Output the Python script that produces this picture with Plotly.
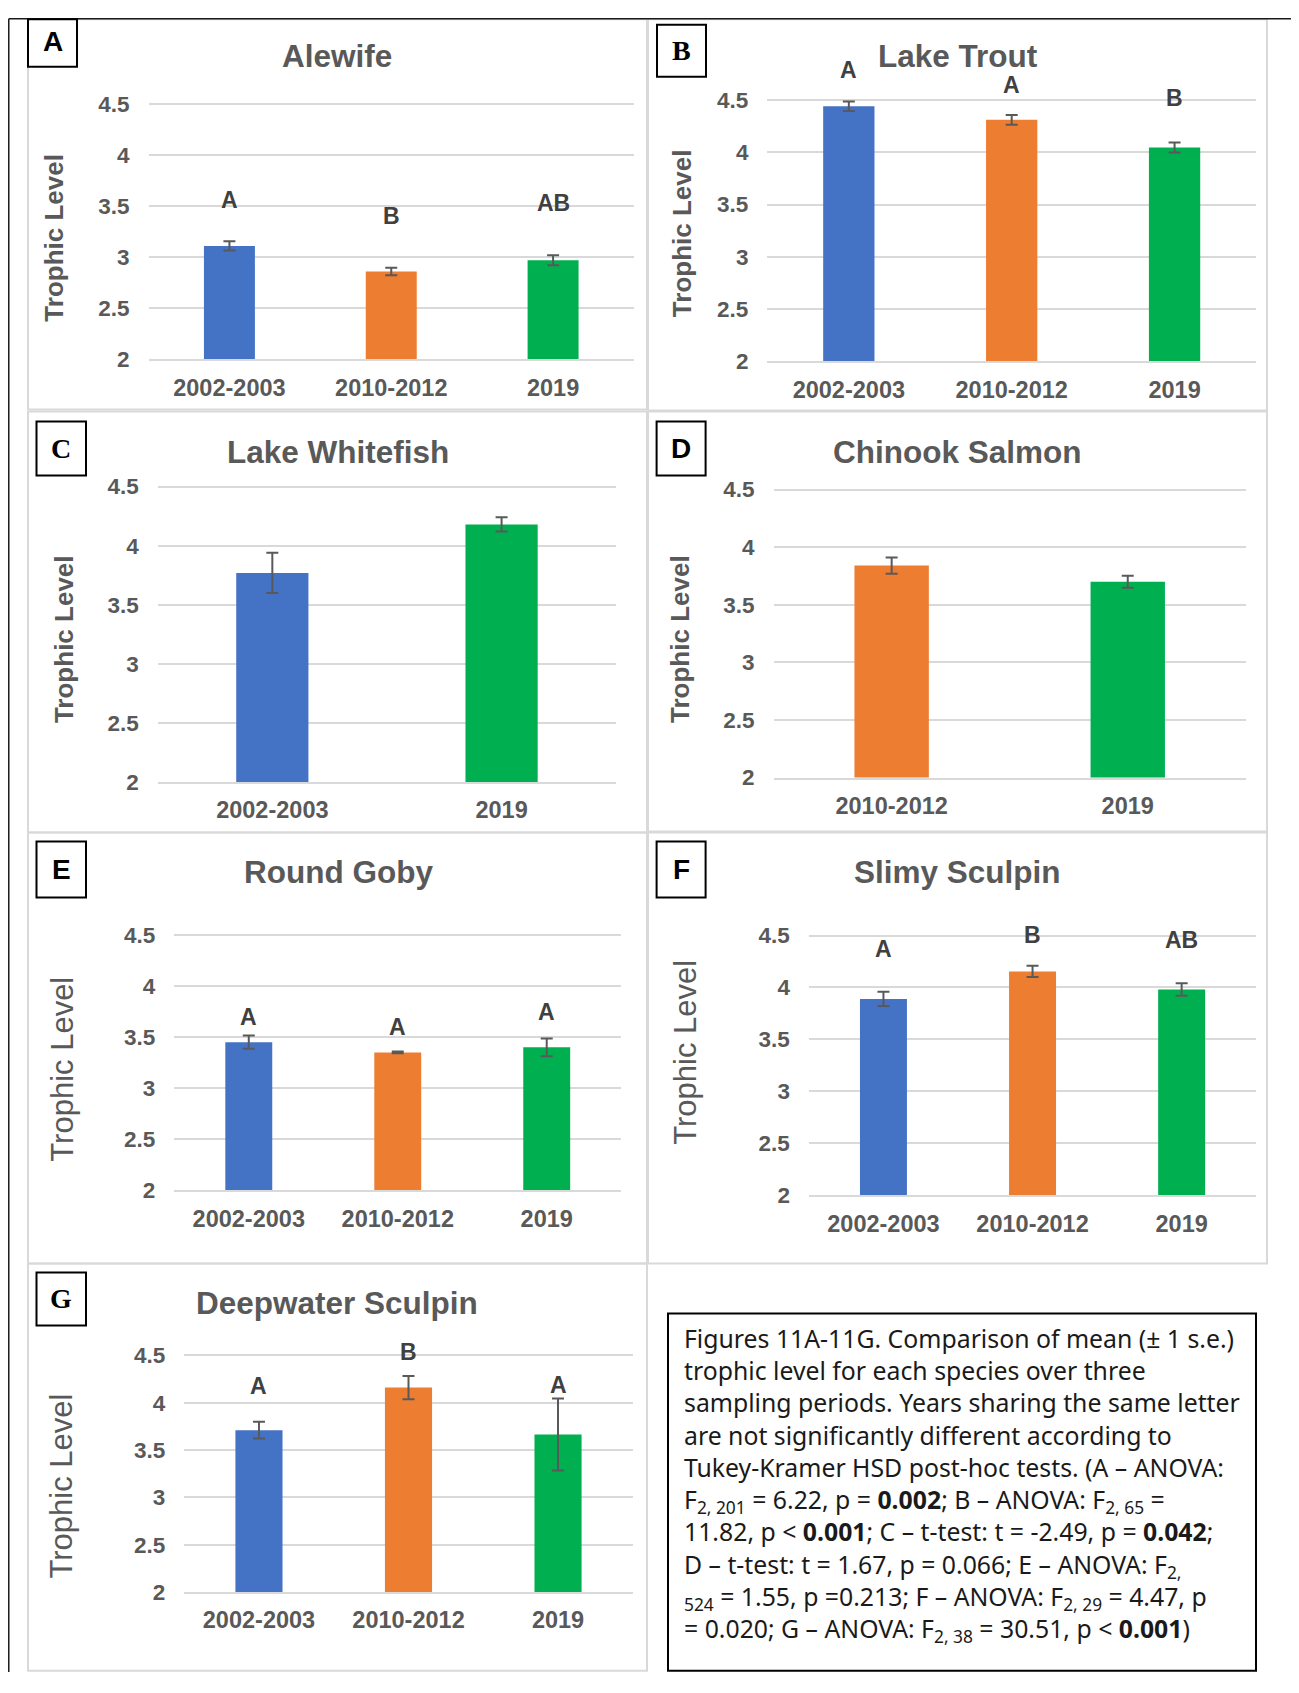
import plotly.graph_objects as go

# page is 1299 x 1693; the figure sits inside the default 8px body margin
PAGE_W, PAGE_H = 1299, 1693
MARGIN = 8
FW, FH = PAGE_W - 2 * MARGIN, PAGE_H - 2 * MARGIN
# measured vertical mapping of the rendered page (observed = SQ * page_y + OFF)
SQ, OFF = 0.9865, 9.4

# ---------------- data ----------------
periods_3 = ["2002-2003", "2010-2012", "2019"]
periods_C = ["2002-2003", "2019"]
periods_D = ["2010-2012", "2019"]

alewife_mean = [3.11, 2.86, 2.97]
alewife_se = [0.045, 0.037, 0.05]
alewife_letters = ["A", "B", "AB"]

lake_trout_mean = [4.44, 4.31, 4.045]
lake_trout_se = [0.045, 0.047, 0.048]
lake_trout_letters = ["A", "A", "B"]

lake_whitefish_mean = [3.77, 4.18]
lake_whitefish_se = [0.17, 0.06]

chinook_mean = [3.84, 3.70]
chinook_se = [0.07, 0.053]

round_goby_mean = [3.45, 3.35, 3.40]
round_goby_se = [0.065, 0.008, 0.087]
round_goby_letters = ["A", "A", "A"]

slimy_sculpin_mean = [3.89, 4.155, 3.98]
slimy_sculpin_se = [0.068, 0.055, 0.06]
slimy_sculpin_letters = ["A", "B", "AB"]

deepwater_sculpin_mean = [3.71, 4.16, 3.665]
deepwater_sculpin_se = [0.088, 0.123, 0.38]
deepwater_sculpin_letters = ["A", "B", "A"]

y_tick_vals = [2, 2.5, 3, 3.5, 4, 4.5]
y_tick_text = ["2", "2.5", "3", "3.5", "4", "4.5"]

period_colors = {"2002-2003": "#4472C4", "2010-2012": "#ED7D31", "2019": "#00B050"}

panel_data = [
    dict(key="A", title="Alewife", cats=periods_3, mean=alewife_mean, se=alewife_se, letters=alewife_letters),
    dict(key="B", title="Lake Trout", cats=periods_3, mean=lake_trout_mean, se=lake_trout_se, letters=lake_trout_letters),
    dict(key="C", title="Lake Whitefish", cats=periods_C, mean=lake_whitefish_mean, se=lake_whitefish_se, letters=None),
    dict(key="D", title="Chinook Salmon", cats=periods_D, mean=chinook_mean, se=chinook_se, letters=None),
    dict(key="E", title="Round Goby", cats=periods_3, mean=round_goby_mean, se=round_goby_se, letters=round_goby_letters),
    dict(key="F", title="Slimy Sculpin", cats=periods_3, mean=slimy_sculpin_mean, se=slimy_sculpin_se, letters=slimy_sculpin_letters),
    dict(key="G", title="Deepwater Sculpin", cats=periods_3, mean=deepwater_sculpin_mean, se=deepwater_sculpin_se, letters=deepwater_sculpin_letters),
]

caption_lines = [
    "Figures 11A-11G. Comparison of mean (± 1 s.e.)",
    "trophic level for each species over three",
    "sampling periods. Years sharing the same letter",
    "are not significantly different according to",
    "Tukey-Kramer HSD post-hoc tests. (A – ANOVA:",
    "F<sub>2, 201</sub> = 6.22, p = <b>0.002</b>; B – ANOVA: F<sub>2, 65</sub> =",
    "11.82, p &lt; <b>0.001</b>; C – t-test: t = -2.49, p = <b>0.042</b>;",
    "D – t-test: t = 1.67, p = 0.066; E – ANOVA: F<sub>2,</sub>",
    "<sub>524</sub> = 1.55, p =0.213; F – ANOVA: F<sub>2, 29</sub> = 4.47, p",
    "= 0.020; G – ANOVA: F<sub>2, 38</sub> = 30.51, p &lt; <b>0.001</b>)",
]

# ---------------- layout (target pixel positions) ----------------
SANS = "Liberation Sans, Arial, sans-serif"
SERIF = "Liberation Serif, Times New Roman, serif"
TXT = "#595959"
GRID = "#D9D9D9"

panel_layout = [
    dict(border=(28, 16, 647, 409), plot=(148.5, 634, 103.3, 358.7), box=(28, 16, 77, 66), box_font=SANS,
         title_xy=(337, 55), ytitle_xy=(54, 237), ytitle_bold=True, sig_y=[3.56, 3.40, 3.53]),
    dict(border=(648, 16, 1267, 410), plot=(767.4, 1256, 99.3, 360.7), box=(657, 24, 706, 76), box_font=SERIF,
         title_xy=(958, 55), ytitle_xy=(681.5, 233), ytitle_bold=True, sig_y=[4.79, 4.64, 4.52]),
    dict(border=(28, 411, 647, 832), plot=(157.7, 616.2, 486, 781.7), box=(36.5, 421, 86, 475), box_font=SERIF,
         title_xy=(338, 451.7), ytitle_xy=(63.5, 639), ytitle_bold=True, sig_y=None),
    dict(border=(648, 411, 1267, 831), plot=(773.6, 1245.8, 489, 777), box=(656.6, 421, 705.6, 475), box_font=SANS,
         title_xy=(957.4, 451.7), ytitle_xy=(679.4, 638), ytitle_bold=True, sig_y=None),
    dict(border=(28, 832, 647, 1263), plot=(174.3, 621.2, 934.3, 1190), box=(36.5, 841, 86, 897), box_font=SANS,
         title_xy=(338, 871.7), ytitle_xy=(62.2, 1069), ytitle_bold=False, sig_y=[3.70, 3.60, 3.743]),
    dict(border=(648, 832, 1267, 1263), plot=(808.9, 1256.2, 935, 1195), box=(656.6, 841, 705.6, 897), box_font=SANS,
         title_xy=(957.4, 871.7), ytitle_xy=(685.6, 1051.7), ytitle_bold=False, sig_y=[4.372, 4.507, 4.46]),
    dict(border=(28, 1263, 647, 1685), plot=(184.2, 632.8, 1355, 1591.7), box=(36.5, 1272, 86, 1325), box_font=SERIF,
         title_xy=(337, 1303), ytitle_xy=(61.4, 1485.8), ytitle_bold=False, sig_y=[4.18, 4.534, 4.19]),
]

YMIN, YMAX = 2.0, 4.5
YPAD = 0.02
PAPER_TOP = 1 - 1.2 / FH
PAPER_BOTTOM = 1.2 / FH


def px_x(px):
    return (px - MARGIN) / FW


def px_y(py):
    page_y = (py - OFF) / SQ
    return max(min(1 - (page_y - MARGIN) / FH, PAPER_TOP), PAPER_BOTTOM)


fig = go.Figure()
layout = dict(
    width=FW, height=FH, autosize=False, margin=dict(l=0, r=0, t=0, b=0, pad=0),
    paper_bgcolor="white", plot_bgcolor="white",
    bargap=0.685, showlegend=False,
    font=dict(family=SANS, color=TXT),
)
shapes = []
annotations = []

# outer black frame (top + left), kept just inside the figure
shapes.append(dict(type="line", xref="paper", yref="paper", x0=0.0006, y0=1 - 0.75 / FH, x1=1.0, y1=1 - 0.75 / FH,
                   line=dict(color="#1a1a1a", width=1.5)))
shapes.append(dict(type="line", xref="paper", yref="paper", x0=0.0006, y0=1 - 0.75 / FH, x1=0.0006, y1=0.0,
                   line=dict(color="#1a1a1a", width=1.5)))

for i, (d, p) in enumerate(zip(panel_data, panel_layout), start=1):
    sfx = "" if i == 1 else str(i)
    xa, ya = "x" + sfx, "y" + sfx
    n = len(d["cats"])
    colors = [period_colors[c] for c in d["cats"]]
    fig.add_trace(go.Bar(x=d["cats"], y=d["mean"], marker=dict(color=colors, line=dict(width=0)),
                         xaxis=xa, yaxis=ya, hoverinfo="skip"))
    fig.add_trace(go.Scatter(x=d["cats"], y=d["mean"], mode="markers", marker=dict(opacity=0, size=2),
                             error_y=dict(type="data", array=d["se"], visible=True, color="#595959",
                                          thickness=2, width=6),
                             xaxis=xa, yaxis=ya, hoverinfo="skip"))

    x0, x1, yt, yb = p["plot"]
    ppu = (yb - yt) / (YMAX - YMIN)
    top_px = yt - YPAD * ppu
    layout["xaxis" + sfx] = dict(
        domain=[px_x(x0), px_x(x1)], anchor=ya, type="category",
        categoryorder="array", categoryarray=d["cats"], range=[-0.5, n - 0.5],
        tickmode="array", tickvals=d["cats"], ticktext=["<b>%s</b>" % c for c in d["cats"]],
        showgrid=False, showline=True, linecolor=GRID, linewidth=2, zeroline=False,
        ticks="", ticklabelstandoff=6, fixedrange=True,
        tickfont=dict(family=SANS, size=23.5, color=TXT),
    )
    layout["yaxis" + sfx] = dict(
        domain=[px_y(yb), px_y(top_px)], anchor=xa, range=[YMIN, YMAX + YPAD],
        tickmode="array", tickvals=y_tick_vals, ticktext=["<b>%s</b>" % t for t in y_tick_text],
        showgrid=True, gridcolor=GRID, gridwidth=2, zeroline=False, showline=False,
        ticks="", ticklabelstandoff=18, fixedrange=True,
        tickfont=dict(family=SANS, size=22.5, color=TXT),
    )

    # panel border
    bx0, by0, bx1, by1 = p["border"]
    shapes.append(dict(type="rect", xref="paper", yref="paper", x0=px_x(bx0), y0=px_y(by0), x1=px_x(bx1),
                       y1=px_y(by1), line=dict(color=GRID, width=2), layer="below"))
    # letter box
    kx0, ky0, kx1, ky1 = p["box"]
    shapes.append(dict(type="rect", xref="paper", yref="paper", x0=px_x(kx0), y0=px_y(ky0), x1=px_x(kx1),
                       y1=px_y(ky1), line=dict(color="black", width=2), fillcolor="white"))
    annotations.append(dict(xref="paper", yref="paper", x=px_x((kx0 + kx1) / 2), y=px_y((ky0 + ky1) / 2),
                            text="<b>%s</b>" % d["key"], showarrow=False, xanchor="center", yanchor="middle",
                            font=dict(family=p["box_font"], size=28, color="black")))
    # title
    tx, ty = p["title_xy"]
    annotations.append(dict(xref="paper", yref="paper", x=px_x(tx), y=px_y(ty), text="<b>%s</b>" % d["title"],
                            showarrow=False, xanchor="center", yanchor="middle",
                            font=dict(family=SANS, size=31.5, color=TXT)))
    # y-axis title
    yx, yy = p["ytitle_xy"]
    if p["ytitle_bold"]:
        ytxt, ysz = "<b>Trophic Level</b>", 26
    else:
        ytxt, ysz = "Trophic Level", 31
    annotations.append(dict(xref="paper", yref="paper", x=px_x(yx), y=px_y(yy), text=ytxt, textangle=-90,
                            showarrow=False, xanchor="center", yanchor="middle",
                            font=dict(family=SANS, size=ysz, color=TXT)))
    # significance letters (paper coordinates computed from category slot and data value)
    if d["letters"]:
        slot = (x1 - x0) / n
        for k, (lab, sy) in enumerate(zip(d["letters"], p["sig_y"])):
            cx = x0 + (k + 0.5) * slot
            py = yb - (sy - YMIN) * ppu
            annotations.append(dict(xref="paper", yref="paper", x=px_x(cx), y=px_y(py), text="<b>%s</b>" % lab,
                                    showarrow=False, xanchor="center", yanchor="middle",
                                    font=dict(family=SANS, size=23, color="#404040")))

# caption box
shapes.append(dict(type="rect", xref="paper", yref="paper", x0=px_x(668), y0=px_y(1313), x1=px_x(1256),
                   y1=px_y(1687), line=dict(color="black", width=2), fillcolor="white"))
annotations.append(dict(xref="paper", yref="paper", x=px_x(682), y=px_y(1319), text="<br>".join(caption_lines),
                        showarrow=False, xanchor="left", yanchor="top", align="left",
                        font=dict(family="Noto Sans, Lato, sans-serif", size=24.8, color="#1a1a1a")))

layout["shapes"] = shapes
layout["annotations"] = annotations
fig.update_layout(**layout)
fig.write_html("out.html", config={"displayModeBar": False})
